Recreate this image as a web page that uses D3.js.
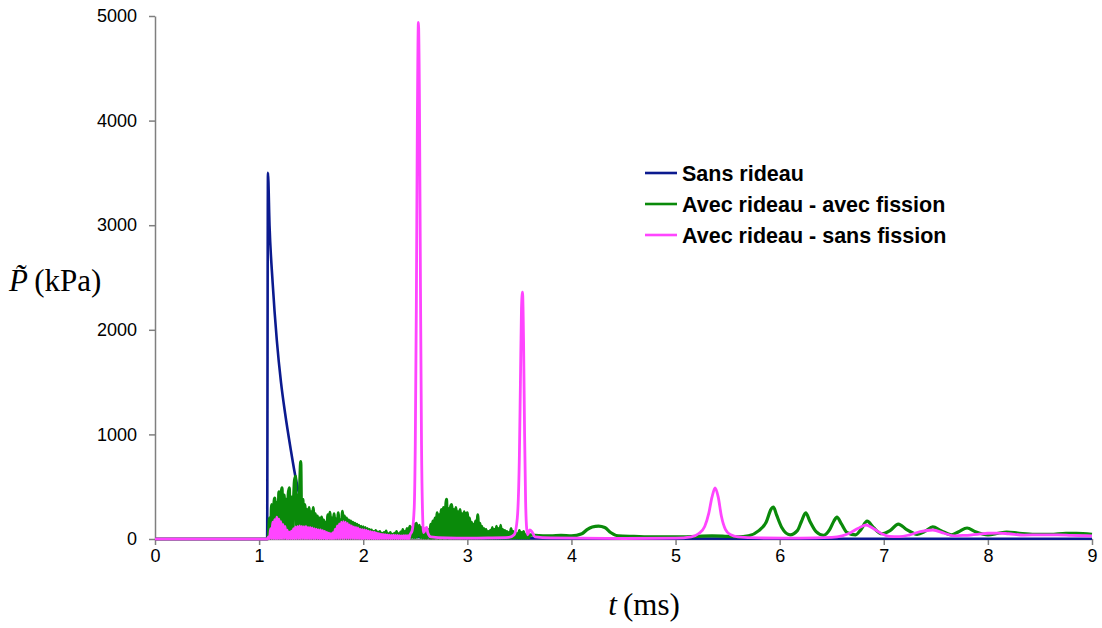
<!DOCTYPE html>
<html><head><meta charset="utf-8">
<script src="https://cdn.jsdelivr.net/npm/d3@7"></script>
<style>
html,body{margin:0;padding:0;background:#fff;}
svg{display:block;}
</style></head>
<body>
<svg id="chart" width="1102" height="628"></svg>
<script>
// ---------- DATA ----------
const xTicks = [0,1,2,3,4,5,6,7,8,9];
const yTicks = [0,1000,2000,3000,4000,5000];
const seriesNames = ["Sans rideau","Avec rideau - avec fission","Avec rideau - sans fission"];
const seriesColors = ["#0b1a8f","#0a8a0a","#ff45ff"];

// Sans rideau : [t (ms), P (kPa)]
const blueData = [[0,0],[1.077,0],[1.085,3500],[1.10,3000],[1.13,2450],[1.17,1900],[1.21,1500],[1.25,1200],[1.30,880],[1.355,565],[1.41,344],[1.46,258],[1.55,170],[1.7,90],[2.0,40],[2.5,20],[3.0,10],[4.0,5],[9.0,2]];

// Avec rideau - avec fission
const greenStart = [[0,0],[1.07,0]];
const greenDenseT0 = 1.08, greenDenseDt = 0.01; // sampling grid of the dense record
const greenDense = [
  0,50,200,10,330,20,300,390,15,350,
  10,450,20,380,490,15,420,10,380,20,
  430,490,10,400,20,350,560,600,15,420,
  20,500,740,15,380,10,330,20,280,10,
  300,15,260,10,300,15,240,10,220,10,
  200,15,210,10,180,10,160,15,230,10,
  255,10,200,15,240,10,190,10,250,15,
  180,10,265,15,220,10,200,10,180,10,
  170,10,160,10,150,10,140,10,130,10,
  120,10,115,10,110,10,100,10,90,10,
  85,10,70,10,80,10,65,10,70,10,
  55,10,60,10,75,10,50,10,60,10,
  45,10,55,10,70,10,50,10,65,10,
  90,10,70,10,100,15,80,120,15,110,
  15,140,15,150,20,90,130,15,110,10,
  100,10,70,10,60,90,10,140,10,170,
  10,200,15,250,10,230,15,280,10,300,
  15,260,380,10,290,15,310,330,10,280,
  10,300,10,260,10,280,10,240,10,260,
  10,230,250,10,200,10,160,10,140,10,
  170,10,230,10,150,10,120,10,100,10,
  90,10,70,10,80,10,110,10,90,10,
  120,10,100,10,130,10,90,10,80,10,
  70,10,60,10,100,10,70,10,60,10,
  50,10,80,10,60,10,70,10,40,10,
  60,10,40];
const greenEnd = [[3.65,35],[3.8,30],[3.9,35],[4.0,30],[4.1,50],[4.15,90],[4.2,115],[4.26,124],[4.32,110],[4.38,60],[4.45,30],[4.6,25],[4.8,20],[5.0,20],[5.2,25],[5.35,30],[5.45,28],[5.6,20],[5.7,30],[5.8,80],[5.87,160],[5.92,290],[5.94,306],[5.97,230],[6.02,110],[6.1,40],[6.17,80],[6.21,170],[6.25,250],[6.29,170],[6.35,70],[6.42,35],[6.48,90],[6.52,170],[6.55,210],[6.59,150],[6.65,60],[6.73,40],[6.78,90],[6.84,170],[6.9,110],[6.98,50],[7.06,80],[7.14,143],[7.22,90],[7.32,45],[7.4,75],[7.47,115],[7.55,80],[7.65,40],[7.72,70],[7.8,105],[7.88,70],[8.0,40],[8.1,55],[8.18,67],[8.3,55],[8.45,45],[8.6,45],[8.75,55],[8.85,55],[9.0,45]];

// Avec rideau - sans fission
const magStart = [[0,0],[1.07,0]];
const magDenseT0 = 1.08, magDenseDt = 0.01;
const magDense = [
  0,20,5,100,5,160,5,185,5,210,
  5,190,5,165,5,140,5,120,5,85,
  5,65,5,75,5,100,5,115,5,120,
  5,125,5,120,5,118,5,120,5,112,
  5,110,5,105,5,100,5,95,5,88,
  5,86,5,80,5,72,5,62,5,55,
  5,52,5,60,5,95,5,125,5,145,
  5,160,5,165,5,160,5,150,5,135,
  5,125,5,115,5,110,5,105,5,95,
  5,90,5,88,5,82,5,76,5,70,
  5,66,5,62,5,57,5,52,5,46,
  5,45,5,42,5,40,5,38,5,34,
  5,36,5,35,5,34,5,33,5,30,
  5,32,5,32,5,32,5,40];
const magEnd = [[2.47,80],[2.49,300],[2.50,900],[2.51,2200],[2.52,4000],[2.53,4940],[2.54,4200],[2.55,2400],[2.56,900],[2.57,250],[2.58,60],[2.60,100],[2.61,110],[2.62,60],[2.65,20],[2.8,10],[3.0,8],[3.2,10],[3.4,15],[3.45,40],[3.48,200],[3.50,800],[3.51,1500],[3.52,2200],[3.53,2360],[3.54,1900],[3.55,1000],[3.56,350],[3.57,100],[3.58,40],[3.60,86],[3.62,70],[3.65,20],[3.8,10],[4.5,5],[5.0,8],[5.15,20],[5.22,50],[5.28,120],[5.32,250],[5.35,400],[5.38,488],[5.41,400],[5.44,220],[5.48,90],[5.53,40],[5.6,20],[5.8,10],[6.2,8],[6.5,15],[6.6,30],[6.68,60],[6.75,100],[6.83,134],[6.9,100],[6.98,50],[7.05,25],[7.15,22],[7.25,40],[7.35,70],[7.47,86],[7.58,55],[7.68,30],[7.78,35],[7.9,45],[8.0,55],[8.1,57],[8.2,50],[8.35,38],[8.5,40],[8.67,40],[8.8,35],[9.0,30]];

// ---------- BUILD ----------
function assemble(start, t0, dt, dense, end){
  return start.concat(dense.map((v,i)=>[+(t0+i*dt).toFixed(3), v]), end);
}
const greenData = assemble(greenStart, greenDenseT0, greenDenseDt, greenDense, greenEnd);
const magData = assemble(magStart, magDenseT0, magDenseDt, magDense, magEnd);

const svg = d3.select("#chart");
const M = {left:155, right:1092, top:16, bottom:539};
const x = d3.scaleLinear().domain([0,9]).range([M.left, M.right]);
const y = d3.scaleLinear().domain([0,5000]).range([M.bottom, M.top]);

const axisColor = "#7f7f7f";
const tickFont = "'Liberation Sans', Arial, sans-serif";

// axes
const gx = svg.append("g").attr("transform",`translate(0,${M.bottom})`)
  .call(d3.axisBottom(x).tickValues(xTicks).tickFormat(d3.format("d")).tickSize(6).tickSizeOuter(0).tickPadding(4));
const gy = svg.append("g").attr("transform",`translate(${M.left},0)`)
  .call(d3.axisLeft(y).tickValues(yTicks).tickFormat(d3.format("d")).tickSize(6).tickSizeOuter(0).tickPadding(12));
[gx,gy].forEach(g=>{
  g.selectAll("path.domain").attr("stroke",axisColor).attr("stroke-width",1.5);
  g.selectAll(".tick line").attr("stroke",axisColor).attr("stroke-width",1.5);
  g.selectAll(".tick text").attr("fill","#000").style("font-family",tickFont).style("font-size","18px");
});
gx.selectAll(".tick text").attr("dy","0.72em");

// lines
const line = d3.line().x(d=>x(d[0])).y(d=>y(d[1])).curve(d3.curveMonotoneX);
svg.append("clipPath").attr("id","clip").append("rect")
  .attr("x",M.left).attr("y",0).attr("width",M.right-M.left+3).attr("height",M.bottom+2);
const plot = svg.append("g").attr("clip-path","url(#clip)");
const all = [blueData, greenData, magData];
const widths = [2.6, 3.2, 2.8];
[0,1,2].forEach(i=>{
  plot.append("path").datum(all[i]).attr("d",line)
    .attr("fill","none").attr("stroke",seriesColors[i]).attr("stroke-width",widths[i])
    .attr("stroke-linejoin","round");
});

// legend
const leg = svg.append("g");
seriesNames.forEach((n,i)=>{
  const yy = 173 + i*31;
  leg.append("line").attr("x1",645).attr("x2",677).attr("y1",yy).attr("y2",yy)
    .attr("stroke",seriesColors[i]).attr("stroke-width",2.6);
  leg.append("text").attr("x",682).attr("y",yy).attr("dy","0.36em")
    .style("font-family",tickFont).style("font-size","21.5px").style("font-weight","bold")
    .text(n);
});

// axis titles
const serif = "'Liberation Serif','Times New Roman',serif";
const xt = svg.append("text").attr("x",644).attr("y",615).attr("text-anchor","middle")
  .style("font-family",serif).style("font-size","31px");
xt.append("tspan").style("font-style","italic").text("t");
xt.append("tspan").text("\u2009(ms)");

const yt = svg.append("text").attr("x",9).attr("y",291)
  .style("font-family",serif).style("font-size","31px");
yt.append("tspan").style("font-style","italic").text("P\u0303");
yt.append("tspan").text("\u2009(kPa)");
</script>
</body></html>
